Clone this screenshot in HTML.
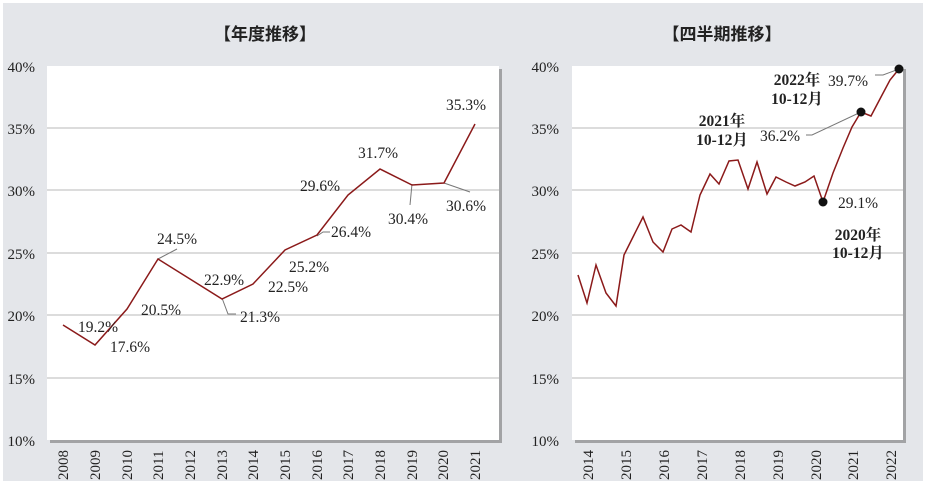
<!DOCTYPE html>
<html><head><meta charset="utf-8"><style>
body{margin:0;background:#fff;}
svg{display:block;font-family:"Liberation Serif","Noto Serif CJK SC",serif;}
</style></head><body>
<svg width="928" height="489" viewBox="0 0 928 489">
<rect x="0" y="0" width="928" height="489" fill="#fff"/>
<rect x="3" y="3" width="920" height="478" fill="#e4e6ea"/>
<!-- left -->
<text x="265" y="40" font-size="17" font-weight="bold" text-anchor="middle" font-family="'Noto Sans CJK JP',sans-serif" fill="#222">【年度推移】</text>
<rect x="50" y="69" width="452" height="374" fill="#777" opacity="0.6"/>
<rect x="47" y="66" width="452" height="374" fill="#fff"/>
<g stroke="#c8c8c8" stroke-width="1.2">
<line x1="47" y1="128" x2="499" y2="128"/><line x1="47" y1="190" x2="499" y2="190"/>
<line x1="47" y1="253" x2="499" y2="253"/><line x1="47" y1="315" x2="499" y2="315"/>
<line x1="47" y1="378" x2="499" y2="378"/></g>
<g font-size="15" fill="#222" text-anchor="end">
<text x="35" y="72">40%</text><text x="35" y="134">35%</text><text x="35" y="196">30%</text>
<text x="35" y="259">25%</text><text x="35" y="321">20%</text><text x="35" y="384">15%</text><text x="35" y="446">10%</text></g>
<g font-size="15" fill="#222">
<text transform="translate(68,480) rotate(-90)">2008</text><text transform="translate(100,480) rotate(-90)">2009</text>
<text transform="translate(132,480) rotate(-90)">2010</text><text transform="translate(163,480) rotate(-90)">2011</text>
<text transform="translate(195,480) rotate(-90)">2012</text><text transform="translate(227,480) rotate(-90)">2013</text>
<text transform="translate(258,480) rotate(-90)">2014</text><text transform="translate(290,480) rotate(-90)">2015</text>
<text transform="translate(322,480) rotate(-90)">2016</text><text transform="translate(353,480) rotate(-90)">2017</text>
<text transform="translate(385,480) rotate(-90)">2018</text><text transform="translate(417,480) rotate(-90)">2019</text>
<text transform="translate(448,480) rotate(-90)">2020</text><text transform="translate(480,480) rotate(-90)">2021</text></g>
<g stroke="#777" stroke-width="1" fill="none">
<polyline points="158,259 177,249"/><polyline points="222,298 228,314 236,314"/>
<polyline points="317,236 323,232 330,232"/><polyline points="412,184 410,205"/><polyline points="444,183 470,192"/></g>
<polyline fill="none" stroke="#8b1a1a" stroke-width="1.5" points="63,325 95,345 127,309 158,259 190,279 222,299 253,284 285,250 317,235 348,195 380,169 412,185 444,183 475,124"/>
<g font-size="15.5" fill="#222">
<text x="78" y="332">19.2%</text><text x="110" y="352">17.6%</text><text x="141" y="315">20.5%</text>
<text x="157" y="244">24.5%</text><text x="204" y="285">22.9%</text><text x="240" y="322">21.3%</text>
<text x="268" y="292">22.5%</text><text x="289" y="272">25.2%</text><text x="331" y="237">26.4%</text>
<text x="300" y="191">29.6%</text><text x="358" y="158">31.7%</text><text x="388" y="224">30.4%</text>
<text x="446" y="211">30.6%</text><text x="446" y="110">35.3%</text></g>
<!-- right -->
<text x="722" y="40" font-size="17" font-weight="bold" text-anchor="middle" font-family="'Noto Sans CJK JP',sans-serif" fill="#222">【四半期推移】</text>
<rect x="575" y="69" width="331" height="374" fill="#777" opacity="0.6"/>
<rect x="572" y="66" width="331" height="374" fill="#fff"/>
<g stroke="#c8c8c8" stroke-width="1.2">
<line x1="572" y1="128" x2="903" y2="128"/><line x1="572" y1="190" x2="903" y2="190"/>
<line x1="572" y1="253" x2="903" y2="253"/><line x1="572" y1="315" x2="903" y2="315"/>
<line x1="572" y1="378" x2="903" y2="378"/></g>
<g font-size="15" fill="#222" text-anchor="end">
<text x="559" y="72">40%</text><text x="559" y="134">35%</text><text x="559" y="196">30%</text>
<text x="559" y="259">25%</text><text x="559" y="321">20%</text><text x="559" y="384">15%</text><text x="559" y="446">10%</text></g>
<g font-size="15" fill="#222">
<text transform="translate(593,480) rotate(-90)">2014</text><text transform="translate(631,480) rotate(-90)">2015</text>
<text transform="translate(669,480) rotate(-90)">2016</text><text transform="translate(707,480) rotate(-90)">2017</text>
<text transform="translate(745,480) rotate(-90)">2018</text><text transform="translate(783,480) rotate(-90)">2019</text>
<text transform="translate(821,480) rotate(-90)">2020</text><text transform="translate(858,480) rotate(-90)">2021</text>
<text transform="translate(896,480) rotate(-90)">2022</text></g>
<g stroke="#777" stroke-width="1" fill="none">
<polyline points="806,135 812,135 861,112"/><polyline points="875,75 883,75 899,69"/></g>
<polyline fill="none" stroke="#8b1a1a" stroke-width="1.5" points="578,275 587,303 596,265 606,293 616,306 624,255 634,235 643,217 653,242 663,252 672,229 681,225 691,232 700,195 710,174 719,184 729,161 738,160 748,189 757,162 767,194 776,177 786,182 795,186 805,182 814,176 823,202 833,173 843,148 852,127 861,112 871,116 881,97 890,80 899,69"/>
<g fill="#111"><circle cx="823" cy="202" r="4.5"/><circle cx="861" cy="112" r="4.5"/><circle cx="899" cy="69" r="4.5"/></g>
<g font-size="15.5" fill="#222">
<text x="838" y="208">29.1%</text><text x="760" y="141">36.2%</text><text x="828" y="86">39.7%</text></g>
<g font-size="15.5" font-weight="bold" fill="#222" text-anchor="middle">
<text x="858" y="240">2020年</text><text x="858" y="258">10-12月</text>
<text x="722" y="126">2021年</text><text x="722" y="145">10-12月</text>
<text x="797" y="85">2022年</text><text x="797" y="104">10-12月</text></g>
</svg>
</body></html>
